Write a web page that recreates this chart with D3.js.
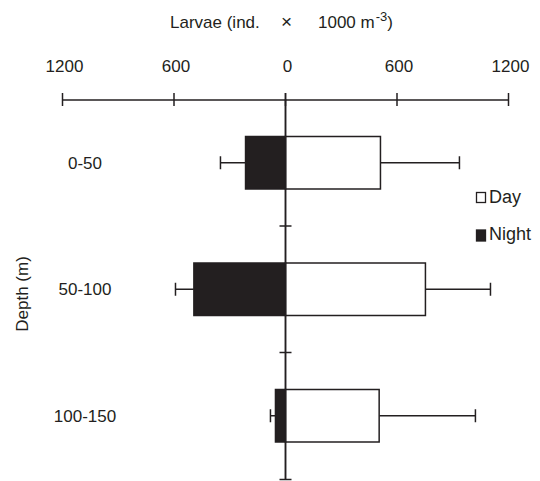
<!DOCTYPE html>
<html><head><meta charset="utf-8">
<script src="https://cdn.jsdelivr.net/npm/d3@7"></script>
<style>body{margin:0;background:#fff}svg{display:block;font-family:"Liberation Sans",Arial,sans-serif}</style>
</head><body><svg id="c" width="540" height="481"></svg>
<script>
const categories = ["0-50", "50-100", "100-150"];
const dayValues = [511, 753, 504];
const dayErrors = [425, 350, 518];
const nightValues = [215, 493, 54];
const nightErrors = [135, 99, 27];
const tickValues = [-1200, -600, 0, 600, 1200];
const tickLabels = ["1200", "600", "0", "600", "1200"];
const seriesNames = ["Day", "Night"];

const svg = d3.select("#c");
const ink = "#231f20";
const x = d3.scaleLinear().domain([-1200, 1200]).range([62.5, 508.5]);
const y = d3.scaleBand().domain(categories).range([99.5, 479]).paddingInner(0.585).paddingOuter(0.2925);
const axisY = 99.5;

// top axis
const ax = svg.append("g").attr("transform", `translate(0,${axisY})`)
  .call(d3.axisTop(x).tickValues(tickValues).tickSize(0).tickFormat(""));
ax.select(".domain").attr("stroke", ink).attr("stroke-width", 1.5);
svg.selectAll(".tk").data(tickValues).join("line")
  .attr("x1", d => x(d)).attr("x2", d => x(d))
  .attr("y1", axisY - 6.5).attr("y2", axisY + 6.5)
  .attr("stroke", ink).attr("stroke-width", 1.5);
svg.selectAll(".tl").data(tickValues).join("text")
  .attr("x", d => x(d) + 2).attr("y", 72)
  .attr("text-anchor", "middle").attr("font-size", 17).attr("fill", ink)
  .text((d, i) => tickLabels[i]);

// title
const t = svg.append("text").attr("y", 28).attr("font-size", 17).attr("fill", ink);
t.append("tspan").attr("x", 170).text("Larvae (ind.");
t.append("tspan").attr("x", 281).attr("font-size", 19).text("×");
t.append("tspan").attr("x", 318).text("1000 m");
t.append("tspan").attr("dx", 1).attr("dy", -7).attr("font-size", 13).text("-3");
t.append("tspan").attr("dy", 7).text(")");

// center vertical line
const x0 = x(0);
svg.append("line").attr("x1", x0).attr("x2", x0).attr("y1", axisY - 6.5).attr("y2", 480)
  .attr("stroke", ink).attr("stroke-width", 1.5);
svg.append("line").attr("x1", x0 - 6).attr("x2", x0 + 6).attr("y1", 479.5).attr("y2", 479.5)
  .attr("stroke", ink).attr("stroke-width", 1.5);
// separators between categories
svg.selectAll(".sep").data(categories.slice(0, -1)).join("line")
  .attr("x1", x0 - 6).attr("x2", x0 + 6)
  .attr("y1", d => y(d) + y.bandwidth() + y.step() * y.paddingInner() / 2)
  .attr("y2", d => y(d) + y.bandwidth() + y.step() * y.paddingInner() / 2)
  .attr("stroke", ink).attr("stroke-width", 1.5);

const cap = 6.5;
// error bars
function errBars(vals, errs, sign) {
  const g = svg.append("g");
  categories.forEach((c, i) => {
    const cy = y(c) + y.bandwidth() / 2;
    const xs = x(sign * vals[i]), xe = x(sign * (vals[i] + errs[i]));
    g.append("line").attr("x1", xs).attr("x2", xe).attr("y1", cy).attr("y2", cy)
      .attr("stroke", ink).attr("stroke-width", 1.5);
    g.append("line").attr("x1", xe).attr("x2", xe).attr("y1", cy - cap).attr("y2", cy + cap)
      .attr("stroke", ink).attr("stroke-width", 1.5);
  });
}
errBars(dayValues, dayErrors, 1);
errBars(nightValues, nightErrors, -1);

// bars
svg.selectAll(".day").data(dayValues).join("rect")
  .attr("x", x0).attr("y", (d, i) => y(categories[i]))
  .attr("width", d => x(d) - x0).attr("height", y.bandwidth())
  .attr("fill", "#fff").attr("stroke", ink).attr("stroke-width", 1.5);
svg.selectAll(".night").data(nightValues).join("rect")
  .attr("x", d => x(-d)).attr("y", (d, i) => y(categories[i]))
  .attr("width", d => x0 - x(-d)).attr("height", y.bandwidth())
  .attr("fill", ink).attr("stroke", ink).attr("stroke-width", 1.5);
// redraw center line over bars
svg.append("line").attr("x1", x0).attr("x2", x0).attr("y1", axisY).attr("y2", 480)
  .attr("stroke", ink).attr("stroke-width", 1.5);

// category labels
svg.selectAll(".cl").data(categories).join("text")
  .attr("x", 85).attr("y", d => y(d) + y.bandwidth() / 2 + 6)
  .attr("text-anchor", "middle").attr("font-size", 17).attr("fill", ink).text(d => d);

// y title
svg.append("text").attr("transform", "translate(28,294) rotate(-90)")
  .attr("text-anchor", "middle").attr("font-size", 17).attr("fill", ink).text("Depth (m)");

// legend
const lg = svg.append("g");
seriesNames.forEach((s, i) => {
  const yy = i === 0 ? 192.5 : 230;
  lg.append("rect").attr("x", 476.5).attr("y", yy).attr("width", 9).attr("height", i === 0 ? 10 : 11)
    .attr("fill", i === 0 ? "#fff" : ink).attr("stroke", ink).attr("stroke-width", 1.3);
  lg.append("text").attr("x", 489).attr("y", i === 0 ? 203 : 239.5)
    .attr("font-size", 18).attr("fill", ink).text(s);
});
</script></body></html>
